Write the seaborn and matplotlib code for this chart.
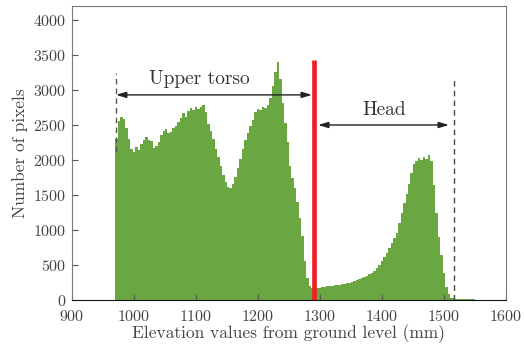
import numpy as np
import pandas as pd
import seaborn as sns
import matplotlib.pyplot as plt

# histogram bins (mm), 4 mm wide
bin_start = 970
bin_width = 4
counts = [
    2300, 2550, 2620, 2580, 2450, 2300, 2160, 2120, 2180, 2140,
    2230, 2280, 2330, 2290, 2270, 2170, 2200, 2260, 2350, 2410,
    2440, 2380, 2400, 2460, 2490, 2540, 2600, 2670, 2620, 2700,
    2740, 2710, 2750, 2730, 2760, 2790, 2680, 2520, 2410, 2300,
    2160, 2040, 1920, 1780, 1690, 1620, 1600, 1660, 1760, 1880,
    2010, 2150, 2280, 2380, 2480, 2570, 2680, 2730, 2720, 2760,
    2740, 2780, 2880, 3050, 3250, 3400, 3150, 2820, 2530, 2250,
    1920, 1740, 1600, 1400, 1170, 920, 560, 310, 200, 170,
    165, 170, 175, 185, 180, 195, 200, 205, 210, 215,
    220, 230, 235, 240, 250, 260, 270, 280, 295, 310,
    330, 350, 370, 385, 420, 460, 500, 560, 610, 670,
    740, 810, 880, 960, 1100, 1240, 1380, 1510, 1660, 1810,
    1940, 1990, 2030, 2000, 2040, 2020, 2070, 1980, 1650, 1250,
    900, 640, 380, 180, 80, 35, 25, 20, 18, 15,
    15, 12, 10, 10, 8,
]

# annotation positions
split_mm = 1291        # red threshold line
torso_start = 971
head_end = 1516

centers = bin_start + bin_width * (np.arange(len(counts)) + 0.5)
df = pd.DataFrame({'elev': centers, 'n': counts})
bin_end = bin_start + bin_width * len(counts)

plt.rcParams['font.family'] = ['cmr10', 'DejaVu Serif']
plt.rcParams['axes.formatter.use_mathtext'] = True

fig = plt.figure(figsize=(5.24, 3.48), dpi=100)
ax = fig.add_axes([0.1374, 0.1379, 0.8282, 0.8449])

sns.histplot(data=df, x='elev', weights='n', binwidth=bin_width,
             binrange=(bin_start, bin_end), element='step',
             fill=True, color='#6aa642', alpha=1, linewidth=0, ax=ax)

# red split line
ax.plot([split_mm, split_mm], [0, 3430], color='#ee2027', linewidth=3.4,
        solid_capstyle='butt', zorder=5)

# dashed range markers
ax.plot([torso_start, torso_start], [2110, 3240], color='#555555',
        linestyle=(0, (4, 3)), linewidth=1)
ax.plot([head_end, head_end], [0, 3190], color='#444444',
        linestyle=(0, (4, 3)), linewidth=1)

arrow = dict(arrowstyle='<|-|>,head_length=0.6,head_width=0.18',
             color='#222222', linewidth=1, shrinkA=0, shrinkB=0)
ax.annotate('', xy=(torso_start, 2930), xytext=(1287, 2930), arrowprops=arrow)
ax.annotate('', xy=(1297, 2500), xytext=(1508, 2500), arrowprops=arrow)
ax.text(1106, 3150, 'Upper torso', ha='center', va='center',
        fontsize=14, color='#333333')
ax.text(1404, 2710, 'Head', ha='center', va='center',
        fontsize=14, color='#333333')

ax.set_xlim(900, 1600)
ax.set_ylim(0, 4200)
ax.set_xticks(range(900, 1601, 100))
ax.set_yticks(range(0, 4001, 500))
ax.tick_params(direction='in', labelsize=11.5, colors='#555555',
               labelcolor='#444444', length=4, top=False, right=False)
ax.tick_params(axis='y', pad=4)
ax.tick_params(axis='x', pad=6.5)
for s in ax.spines.values():
    s.set_color('#777777')
    s.set_linewidth(0.8)
ax.spines['bottom'].set_color('#111111')

ax.set_xlabel('Elevation values from ground level (mm)', fontsize=12.5,
              color='#444444', labelpad=0)
ax.set_ylabel('Number of pixels', fontsize=12.5, color='#444444', labelpad=4)

fig.savefig('out.png', dpi=100)
